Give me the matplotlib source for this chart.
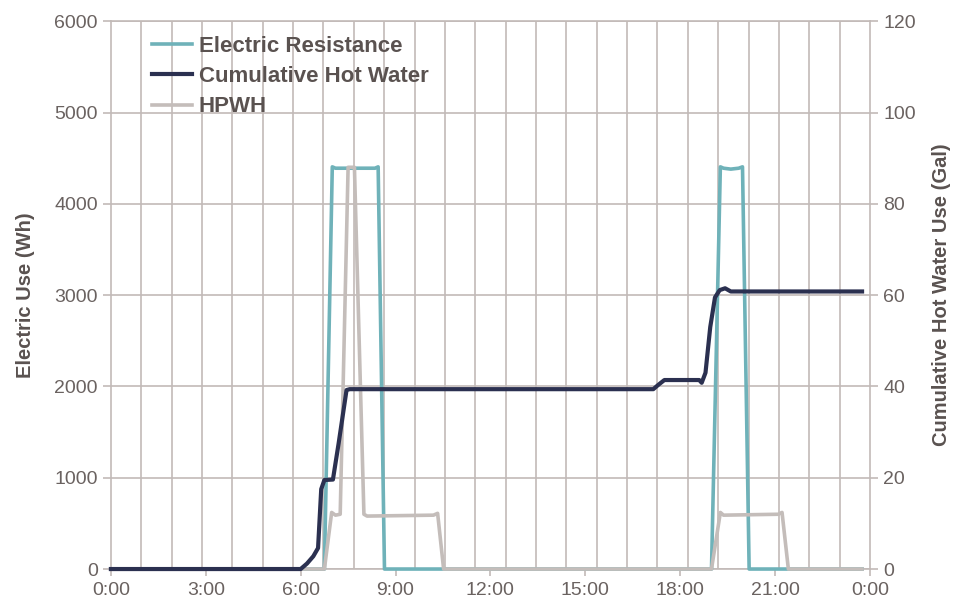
import numpy as np
import matplotlib
matplotlib.use('Agg')
import matplotlib.pyplot as plt

plt.rcParams['font.family'] = ['Liberation Sans', 'DejaVu Sans']

# hours of day (breakpoints)
er_t = [0, 6.75, 7.0, 7.1, 8.35, 8.45, 8.65, 18.99, 19.27, 19.37, 19.6, 19.85, 19.97, 20.18, 23.75]
er_wh = [0, 0, 4405, 4390, 4390, 4405, 0, 0, 4405, 4390, 4380, 4390, 4405, 0, 0]

hp_t = [0, 6.75, 6.98, 7.1, 7.25, 7.5, 7.7, 8.0, 8.1, 10.2, 10.33, 10.52, 18.99, 19.27, 19.37, 21.1, 21.22, 21.42, 23.75]
hp_wh = [0, 0, 620, 590, 600, 4400, 4400, 600, 580, 590, 610, 0, 0, 620, 590, 600, 620, 0, 0]

hw_t = [0, 6.0, 6.2, 6.4, 6.55, 6.65, 6.75, 7.02, 7.2, 7.45, 7.55, 17.15, 17.3, 17.5, 18.6, 18.68, 18.8, 18.95, 19.1, 19.25, 19.42, 19.6, 23.75]
hw_gal = [0, 0, 1.2, 2.8, 4.6, 17.5, 19.5, 19.6, 27.5, 39.2, 39.4, 39.4, 40.3, 41.4, 41.4, 40.8, 43, 53, 59.5, 61.1, 61.5, 60.8, 60.8]

xtick_hours = [0, 3, 6, 9, 12, 15, 18, 21, 24]
xtick_labels = ['0:00', '3:00', '6:00', '9:00', '12:00', '15:00', '18:00', '21:00', '0:00']

teal = '#6fb2b9'
navy = '#2b3050'
grey = '#c4bdba'
grid_c = '#c2bab7'
text_c = '#5a5250'
tick_c = '#6a6260'

fig = plt.figure(figsize=(9.56, 6.06), dpi=100)
ax = fig.add_axes([0.116, 0.061, 0.794, 0.904])
ax2 = ax.twinx()

l1, = ax.plot(er_t, er_wh, color=teal, lw=2.6, label='Electric Resistance', zorder=3,
              clip_on=False, solid_joinstyle='round')
l3, = ax.plot(hp_t, hp_wh, color=grey, lw=2.6, label='HPWH', zorder=4,
              clip_on=False, solid_joinstyle='round')
l2, = ax2.plot(hw_t, hw_gal, color=navy, lw=3.0, label='Cumulative Hot Water', zorder=4,
               clip_on=False, solid_joinstyle='round')

ax.set_xlim(0, 24)
ax.set_ylim(0, 6000)
ax2.set_ylim(0, 120)
ax.set_yticks(range(0, 6001, 1000))
ax2.set_yticks(range(0, 121, 20))
ax.set_xticks(xtick_hours)
ax.set_xticklabels(xtick_labels)
ax.set_xticks(np.linspace(0, 24, 26), minor=True)

ax.grid(False)
ax.xaxis.grid(True, which='minor', color=grid_c, lw=1.2)
ax.yaxis.grid(True, which='major', color=grid_c, lw=1.2)
ax.set_axisbelow(True)

for s in ax.spines.values():
    s.set_color(grid_c)
    s.set_linewidth(1.2)
    s.set_zorder(1)
for s in ax2.spines.values():
    s.set_visible(False)
for a in (ax, ax2):
    a.tick_params(colors=grid_c, labelcolor=tick_c, labelsize=14, width=1.2, length=6)
ax.tick_params(axis='x', which='minor', length=0)
ax.tick_params(axis='x', which='major', length=5, pad=4)

ax.set_ylabel('Electric Use (Wh)', fontsize=14.5, fontweight='bold', color=text_c, labelpad=14)
ax2.set_ylabel('Cumulative Hot Water Use (Gal)', fontsize=14.5, fontweight='bold', color=text_c, labelpad=12)

leg = ax2.legend(handles=[l1, l2, l3], loc='upper left', bbox_to_anchor=(0.035, 1.0),
                 frameon=False, fontsize=16, handlelength=1.8, handletextpad=0.3,
                 labelspacing=0.42, borderaxespad=0.25)
for t in leg.get_texts():
    t.set_color(text_c)
    t.set_fontweight('bold')

fig.savefig('out.png', dpi=100)
